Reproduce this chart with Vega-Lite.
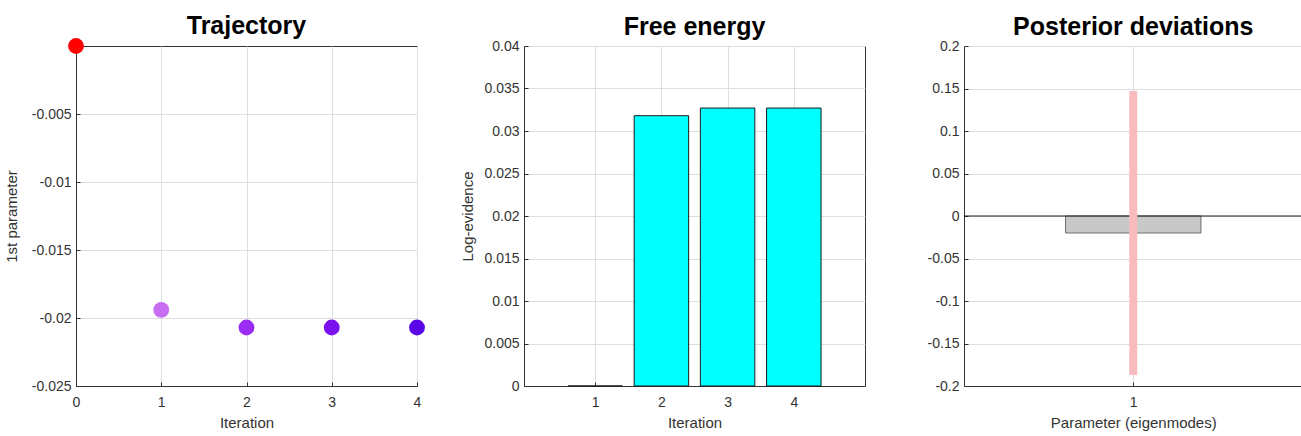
{
  "$schema": "https://vega.github.io/schema/vega-lite/v6.json",
  "background": "white",
  "padding": {"left": 3, "top": 13, "right": 0, "bottom": 0},
  "autosize": {"type": "pad"},
  "config": {
    "font": "Liberation Sans",
    "view": {"stroke": "#333333", "strokeWidth": 1},
    "axis": {
      "domainColor": "#333333",
      "tickColor": "#333333",
      "tickSize": -4,
      "labelFont": "Liberation Sans",
      "labelFontSize": 14,
      "labelColor": "#333333",
      "labelFlush": false,
      "labelOverlap": false,
      "titleFont": "Liberation Sans",
      "titleFontSize": 15,
      "titleFontWeight": "normal",
      "titleColor": "#333333",
      "gridColor": "#dedede",
      "gridOpacity": 1
    },
    "axisX": {"labelPadding": 13, "titlePadding": 6},
    "axisY": {"labelPadding": 9, "titlePadding": 12},
    "title": {
      "font": "Liberation Sans",
      "fontSize": 25,
      "fontWeight": "bold",
      "color": "#000000",
      "anchor": "middle",
      "baseline": "alphabetic",
      "offset": -1
    }
  },
  "datasets": {
    "trajectory": [
      {"iteration": 0, "param": 0},
      {"iteration": 1, "param": -0.0194},
      {"iteration": 2, "param": -0.0207},
      {"iteration": 3, "param": -0.0207},
      {"iteration": 4, "param": -0.0207}
    ],
    "evidence": [
      {"iteration": 1, "logEvidence": 0},
      {"iteration": 2, "logEvidence": 0.0318},
      {"iteration": 3, "logEvidence": 0.0327},
      {"iteration": 4, "logEvidence": 0.0327}
    ],
    "deviations": [
      {"parameter": 1, "deviation": -0.02, "lower": -0.187, "upper": 0.147}
    ]
  },
  "bounds": "full",
  "spacing": 61,
  "hconcat": [
    {
      "bounds": "flush",
      "spacing": 107,
      "hconcat": [
        {
          "width": 341,
          "height": 340,
          "title": "Trajectory",
          "data": {"name": "trajectory"},
          "mark": {"type": "point", "filled": true, "size": 250, "opacity": 1},
          "encoding": {
            "x": {
              "field": "iteration",
              "type": "quantitative",
              "scale": {"domain": [0, 4], "nice": false, "zero": false},
              "axis": {"title": "Iteration", "values": [0, 1, 2, 3, 4], "labelExpr": "'' + datum.value"}
            },
            "y": {
              "field": "param",
              "type": "quantitative",
              "scale": {"domain": [-0.025, 0], "nice": false},
              "axis": {
                "title": "1st parameter",
                "values": [-0.025, -0.02, -0.015, -0.01, -0.005],
                "labelExpr": "'' + datum.value"
              }
            },
            "color": {
              "field": "iteration",
              "type": "ordinal",
              "scale": {
                "domain": [0, 1, 2, 3, 4],
                "range": ["#ff0000", "#c86ef2", "#9a2cf4", "#7a12ef", "#5a05e6"]
              },
              "legend": null
            }
          }
        },
        {
          "width": 341,
          "height": 340,
          "title": "Free energy",
          "data": {"name": "evidence"},
          "mark": {"type": "bar", "width": 54.5, "color": "#00ffff", "stroke": "#1a1a1a", "strokeWidth": 1},
          "encoding": {
            "x": {
              "field": "iteration",
              "type": "quantitative",
              "scale": {"domain": [0, 5], "nice": false, "zero": false},
              "axis": {"title": "Iteration", "values": [1, 2, 3, 4], "labelExpr": "'' + datum.value"}
            },
            "y": {
              "field": "logEvidence",
              "type": "quantitative",
              "scale": {"domain": [0, 0.04], "nice": false},
              "axis": {
                "title": "Log-evidence",
                "titlePadding": 8,
                "values": [0, 0.005, 0.01, 0.015, 0.02, 0.025, 0.03, 0.035, 0.04],
                "labelExpr": "'' + datum.value"
              }
            }
          }
        }
      ]
    },
    {
      "width": 338.5,
      "height": 340,
      "title": "Posterior deviations",
      "view": {"stroke": null},
      "data": {"name": "deviations"},
      "encoding": {
        "x": {
          "field": "parameter",
          "type": "quantitative",
          "scale": {"domain": [0, 2], "nice": false, "zero": false},
          "axis": {"title": "Parameter (eigenmodes)", "values": [1], "labelExpr": "'' + datum.value"}
        }
      },
      "layer": [
        {
          "mark": {"type": "bar", "width": 135.4, "color": "#c8c8c8", "stroke": "#6e6e6e", "strokeWidth": 1},
          "encoding": {
            "y": {
              "field": "deviation",
              "type": "quantitative",
              "scale": {"domain": [-0.2, 0.2], "nice": false},
              "axis": {
                "title": null,
                "values": [-0.2, -0.15, -0.1, -0.05, 0, 0.05, 0.1, 0.15, 0.2],
                "labelExpr": "'' + datum.value"
              }
            }
          }
        },
        {
          "mark": {"type": "rule", "color": "#1a1a1a", "strokeWidth": 1},
          "encoding": {"x": null, "y": {"datum": 0, "type": "quantitative"}}
        },
        {
          "mark": {"type": "rule", "color": "#f8bcbf", "strokeWidth": 8},
          "encoding": {
            "y": {"field": "lower", "type": "quantitative"},
            "y2": {"field": "upper"}
          }
        }
      ]
    }
  ]
}
